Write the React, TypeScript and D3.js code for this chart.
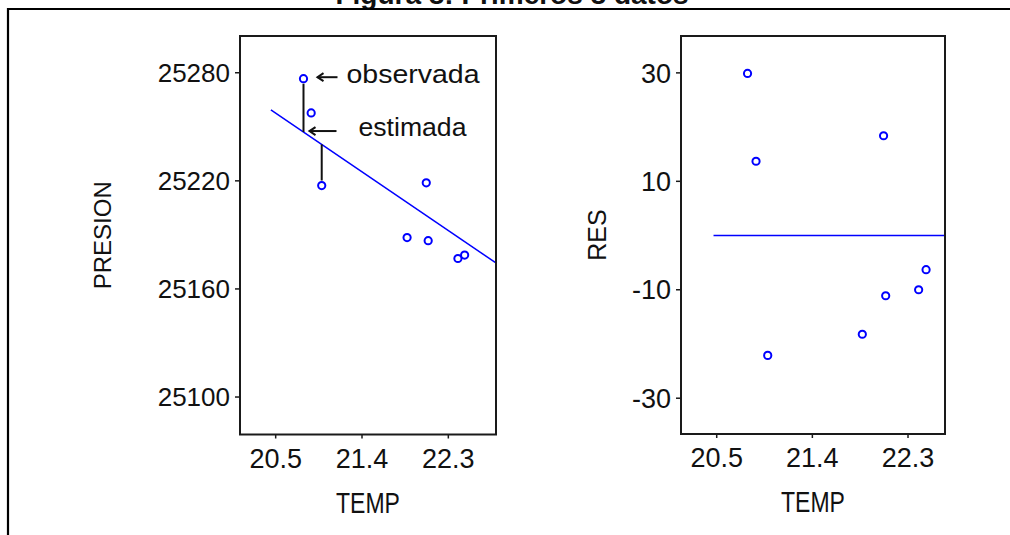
import React from "react";
import * as d3 from "d3";

// ---- data ----
const TEMP = [20.79, 20.87, 20.98, 21.87, 22.07, 22.09, 22.40, 22.47];
const PRESION = [25276.7, 25257.7, 25217.4, 25188.5, 25218.9, 25186.8, 25176.9, 25178.8];
const RES = [29.9, 13.7, -22.1, -18.2, 18.4, -11.1, -10.0, -6.3];
const FIT_TEMP = [20.45, 22.8];
const FIT_PRESION = [25259.4, 25174.3];
const RES_LINE_TEMP = [20.47, 22.65];
const RES_LINE_VAL = [0, 0];
const X_TICKS = [20.5, 21.4, 22.3];
const Y_TICKS_PRESION = [25100, 25160, 25220, 25280];
const Y_TICKS_RES = [-30, -10, 10, 30];
const TITLE = "Figura 8: Primeros 8 datos";

const FONT = "Arial, 'Liberation Sans', sans-serif";
const BLUE = "#0000ff";
const AXIS = "#1a1a1a";

type PanelProps = {
  x: d3.ScaleLinear<number, number>;
  y: d3.ScaleLinear<number, number>;
  xs: number[];
  ys: number[];
  lineX: number[];
  lineY: number[];
  yTicks: number[];
  yFontSize: number;
  yLabel: string;
  yLabelX: number;
  yLabelFont: number;
  children?: React.ReactNode;
};

function Panel({ x, y, xs, ys, lineX, lineY, yTicks, yFontSize, yLabel, yLabelX, yLabelFont, children }: PanelProps) {
  const [x0, x1] = x.range();
  const [y0, y1] = y.range(); // y0 bottom, y1 top
  const line = d3
    .line<number>()
    .x((_, i) => x(lineX[i]))
    .y((d) => y(d));
  const cx = (x0 + x1) / 2;
  const cy = (y0 + y1) / 2;
  return (
    <g>
      <path d={line(lineY) || ""} stroke={BLUE} strokeWidth={1.5} fill="none" />
      {children}
      {xs.map((t, i) => (
        <circle key={i} cx={x(t)} cy={y(ys[i])} r={3.6} fill="white" stroke={BLUE} strokeWidth={2} />
      ))}
      <rect x={x0} y={y1} width={x1 - x0} height={y0 - y1} fill="none" stroke={AXIS} strokeWidth={2} />
      {yTicks.map((t) => (
        <g key={t}>
          <line x1={x0 - 5} x2={x0} y1={y(t)} y2={y(t)} stroke={AXIS} strokeWidth={1.5} />
          <text x={x0 - 10} y={y(t)} dy="0.36em" textAnchor="end" fontSize={yFontSize} fontFamily={FONT} fill="#111">
            {t}
          </text>
        </g>
      ))}
      {X_TICKS.map((t) => (
        <g key={t}>
          <line x1={x(t)} x2={x(t)} y1={y0} y2={y0 + 4} stroke={AXIS} strokeWidth={1.5} />
          <text x={x(t)} y={y0 + 33} textAnchor="middle" fontSize={27} fontFamily={FONT} fill="#111">
            {t.toFixed(1)}
          </text>
        </g>
      ))}
      <g transform={`translate(${cx},${y0 + 78}) scale(1,1.3)`}>
        <text x={0} y={0} textAnchor="middle" fontSize={23} fontFamily={FONT} fill="#111">
          TEMP
        </text>
      </g>
      <g transform={`translate(${yLabelX},${cy}) rotate(-90)`}>
        <text x={0} y={0} dy="0.36em" textAnchor="middle" fontSize={yLabelFont} fontFamily={FONT} fill="#111">
          {yLabel}
        </text>
      </g>
    </g>
  );
}

function Arrow({ tip, tail, y }: { tip: number; tail: number; y: number }) {
  return (
    <g stroke="#111" strokeWidth={2} fill="none">
      <line x1={tip} x2={tail} y1={y} y2={y} />
      <path d={`M${tip + 6},${y - 4} L${tip},${y} L${tip + 6},${y + 4}`} />
    </g>
  );
}

export default function App() {
  const xL = d3.scaleLinear().domain([20.128, 22.797]).range([240, 496]);
  const yL = d3.scaleLinear().domain([25079.2, 25300.4]).range([434.5, 36]);
  const xR = d3.scaleLinear().domain([20.164, 22.648]).range([681, 945]);
  const yR = d3.scaleLinear().domain([-36.6, 36.8]).range([434, 36]);

  const fit = d3.scaleLinear().domain(FIT_TEMP).range(FIT_PRESION);

  // annotation segments: observed vs fitted for points 1 and 3
  const seg = [0, 2].map((i) => ({
    x: xL(TEMP[i]),
    yObs: yL(PRESION[i]),
    yFit: yL(fit(TEMP[i])),
  }));
  const p0 = seg[0];

  return (
    <svg width={1010} height={535} style={{ position: "absolute", left: 0, top: 0, background: "white" }}>
      <rect x={0} y={0} width={1010} height={535} fill="white" />
      <text x={512} y={4} textAnchor="middle" fontSize={28} fontWeight="bold" fontFamily={FONT} fill="#111">
        {TITLE}
      </text>
      <path d="M8,535 L8,9 L1010,9" stroke="#000" strokeWidth={2.2} fill="none" />

      <Panel
        x={xL}
        y={yL}
        xs={TEMP}
        ys={PRESION}
        lineX={FIT_TEMP}
        lineY={FIT_PRESION}
        yTicks={Y_TICKS_PRESION}
        yFontSize={26}
        yLabel="PRESION"
        yLabelX={102}
        yLabelFont={24}
      >
        {seg.map((s, i) => (
          <line
            key={i}
            x1={s.x}
            x2={s.x}
            y1={s.yObs + (s.yObs < s.yFit ? 5 : -5)}
            y2={s.yFit}
            stroke="#111"
            strokeWidth={2}
          />
        ))}
        <Arrow tip={p0.x + 14} tail={p0.x + 34} y={p0.yObs - 1.5} />
        <text x={p0.x + 43} y={p0.yObs + 4} fontSize={25} fontFamily={FONT} fill="#111" textLength={133} lengthAdjust="spacingAndGlyphs">
          observada
        </text>
        <Arrow tip={p0.x + 6} tail={p0.x + 33} y={p0.yFit - 1} />
        <text x={p0.x + 55} y={p0.yFit + 4} fontSize={25} fontFamily={FONT} fill="#111" textLength={108} lengthAdjust="spacingAndGlyphs">
          estimada
        </text>
      </Panel>

      <Panel
        x={xR}
        y={yR}
        xs={TEMP}
        ys={RES}
        lineX={RES_LINE_TEMP}
        lineY={RES_LINE_VAL}
        yTicks={Y_TICKS_RES}
        yFontSize={27}
        yLabel="RES"
        yLabelX={597}
        yLabelFont={25}
      />
    </svg>
  );
}
